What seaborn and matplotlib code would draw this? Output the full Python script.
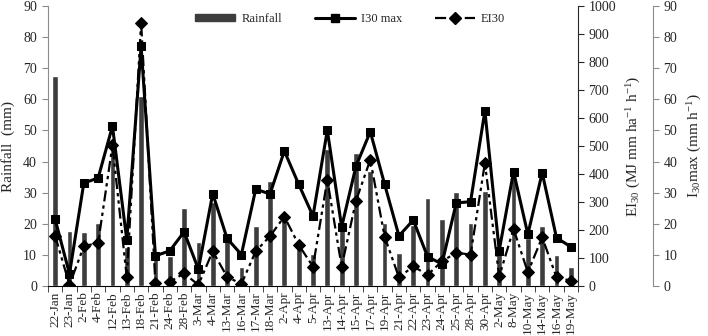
import numpy as np
import pandas as pd
import matplotlib
matplotlib.use("Agg")
import matplotlib.pyplot as plt
import seaborn as sns
from matplotlib.lines import Line2D
from matplotlib.patches import Patch

# =========================
# datos
# =========================
dates = ["22-Jan", "23-Jan", "2-Feb", "4-Feb", "12-Feb", "13-Feb", "18-Feb",
         "21-Feb", "24-Feb", "28-Feb", "3-Mar", "4-Mar", "13-Mar", "16-Mar",
         "17-Mar", "18-Mar", "2-Apr", "4-Apr", "5-Apr", "13-Apr", "14-Apr",
         "15-Apr", "17-Apr", "19-Apr", "21-Apr", "22-Apr", "23-Apr", "24-Apr",
         "25-Apr", "28-Apr", "30-Apr", "2-May", "8-May", "10-May", "14-May",
         "16-May", "19-May"]

rainfall = [67.6, 17.8, 17.3, 20.4, 46, 12.4, 61, 9.5, 9.6, 25,
            14.3, 27, 15.5, 6, 19.4, 33.6, 22, 14, 10.3, 44,
            18.5, 42.8, 36.9, 20.2, 10.6, 19.5, 28.2, 21.6, 30.3, 20.4,
            30.4, 10.5, 35, 15.5, 19.4, 10, 6]

i30max = [21.4, 3.9, 33.1, 34.7, 51.4, 14.8, 77, 9.7, 11.3, 17.4,
          5.4, 29.7, 15.3, 10.1, 31.1, 29.6, 43.4, 32.7, 22.5, 50.1,
          19.0, 38.5, 49.6, 32.7, 16.1, 21.2, 9.4, 7.1, 26.7, 27.1,
          56.3, 11.4, 36.8, 16.6, 36.4, 15.5, 12.6]

ei30 = [179, 4, 142, 154, 502, 31, 940, 9, 15, 45,
        4, 124, 33, 7, 124, 178, 248, 147, 69, 380,
        69, 304, 451, 176, 31, 70, 40, 88, 119, 112,
        439, 34, 204, 49, 174, 31, 19]

df = pd.DataFrame({"date": dates, "rainfall": rainfall,
                   "i30max": i30max, "ei30": ei30})
df["pos"] = np.arange(len(df))

# =========================
# estilo
# =========================
sns.set_style("white")
plt.rcParams["font.family"] = ["Liberation Serif", "DejaVu Serif"]
plt.rcParams["mathtext.fontset"] = "custom"
plt.rcParams["mathtext.rm"] = "Liberation Serif"
plt.rcParams["mathtext.it"] = "Liberation Serif:italic"

fig = plt.figure(figsize=(7.08, 3.36), dpi=100)
ax = fig.add_axes([48 / 708, 50 / 336, 530 / 708, 280 / 336])

BAR = "#3d3d3d"
GREY_AX = "#8c8c8c"
DASH = [5, 1.8, 1.5, 1.8, 1.5, 1.8]

# barras de lluvia
sns.barplot(data=df, x="date", y="rainfall", order=dates, color=BAR,
            width=0.4, saturation=1, ax=ax)
ax.set_xlim(-0.5, len(dates) - 0.5)
ax.set_ylim(0, 90)
ax.set_yticks(range(0, 91, 10))
ax.set_xlabel("")
ax.set_ylabel("Rainfall  (mm)", fontsize=11, labelpad=6)
ax.tick_params(axis="y", labelsize=10, length=4, direction="out",
               color=GREY_AX, left=True, pad=4)
ax.set_xticks(range(len(dates)))
ax.set_xticklabels(dates, rotation=90, fontsize=9.5)
ax.tick_params(axis="x", length=0, pad=4)
ax.set_xticks(np.arange(-0.5, len(dates), 1), minor=True)
ax.tick_params(axis="x", which="minor", length=4, bottom=True, direction="out")
for s in ["top", "right"]:
    ax.spines[s].set_visible(False)
ax.spines["left"].set_color(GREY_AX)
ax.spines["bottom"].set_color("black")

# EI30 eje derecho
ax2 = ax.twinx()
sns.lineplot(data=df, x="pos", y="ei30", ax=ax2, color="black",
             marker="D", markersize=6.5, linewidth=1.6, estimator=None,
             markeredgecolor="black")
ax2.lines[-1].set_dashes(DASH)
ax2.set_ylim(0, 1000)
ax2.set_yticks(range(0, 1001, 100))
ax2.set_ylabel("EI$\\mathregular{_{30}}$ (MJ mm ha$\\mathregular{^{-1}}$ h$\\mathregular{^{-1}}$)",
               fontsize=11, labelpad=6)
ax2.tick_params(axis="y", labelsize=10, length=4, direction="out", right=True)
for s in ["top", "left", "bottom"]:
    ax2.spines[s].set_visible(False)
ax2.set_xlabel("")

# I30 max tercer eje
ax3 = ax.twinx()
ax3.spines["right"].set_position(("axes", (653 - 48) / 530))
sns.lineplot(data=df, x="pos", y="i30max", ax=ax3, color="black",
             marker="s", markersize=6.3, linewidth=2.2, estimator=None,
             markeredgecolor="black")
ax3.set_ylim(0, 90)
ax3.set_yticks(range(0, 91, 10))
ax3.set_ylabel("I$\\mathregular{_{30}}$max (mm h$\\mathregular{^{-1}}$)",
               fontsize=11, labelpad=6)
ax3.tick_params(axis="y", labelsize=10, length=4, direction="out",
                right=True, color=GREY_AX)
ax3.spines["right"].set_color(GREY_AX)
for s in ["top", "left", "bottom"]:
    ax3.spines[s].set_visible(False)
ax3.set_xlabel("")
ax3.set_xlim(-0.5, len(dates) - 0.5)
ax2.set_xlim(-0.5, len(dates) - 0.5)

# leyenda
handles = [
    Patch(facecolor=BAR, edgecolor=BAR),
    Line2D([0], [0], color="black", lw=2.2, marker="s", markersize=6.3),
    Line2D([0], [0], color="black", lw=1.6, marker="D", markersize=6.5,
           dashes=DASH),
]
ax3.legend(handles, ["Rainfall", "I30 max", "EI30"], ncol=3, frameon=False,
           loc="center", bbox_to_anchor=(0.57, 0.955), fontsize=9,
           handlelength=3.2, handleheight=0.45, columnspacing=2.6,
           handletextpad=0.5)

fig.savefig("out.png", dpi=100)
